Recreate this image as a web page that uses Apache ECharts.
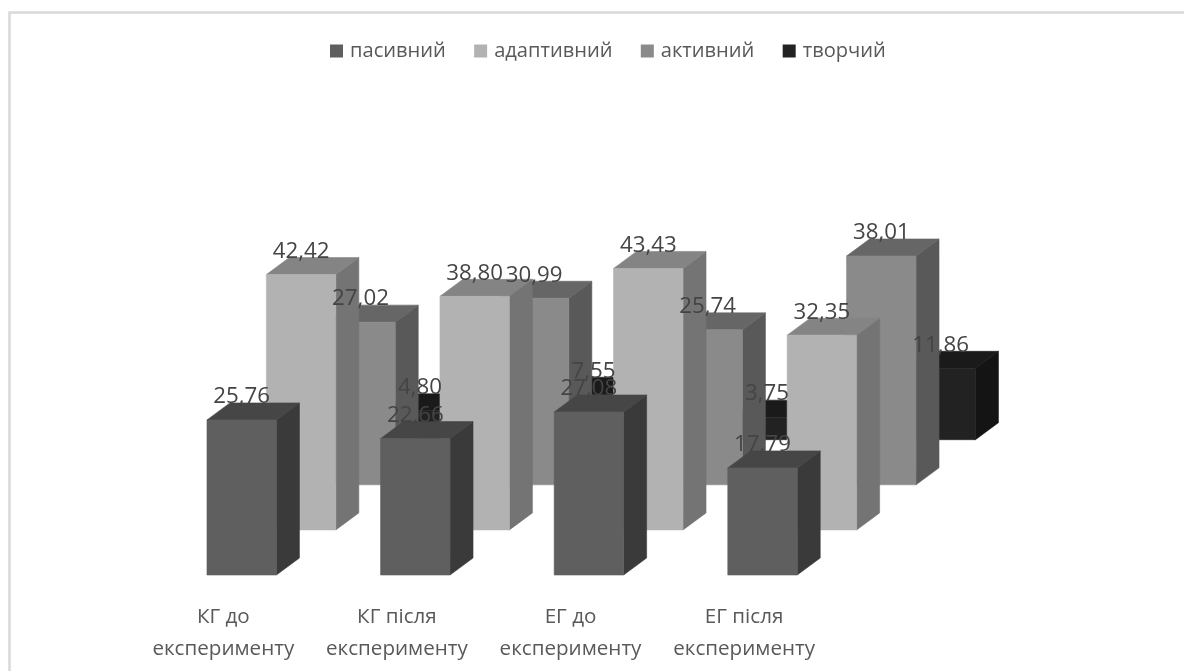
<!DOCTYPE html>
<html><head><meta charset="utf-8">
<style>html,body{margin:0;padding:0;background:#fff}#c{width:1184px;height:671px}</style>
<script src="https://cdn.jsdelivr.net/npm/echarts@6/dist/echarts.min.js"></script>
</head><body><div id="c"></div>
<script>
const categories = ['КГ до\nексперименту','КГ після\nексперименту','ЕГ до\nексперименту','ЕГ після\nексперименту'];
const passive = [25.76,22.66,27.08,17.79];
const adaptive = [42.42,38.80,43.43,32.35];
const active = [27.02,30.99,25.74,38.01];
const creative = [4.80,7.55,3.75,11.86];
const seriesNames = ['пасивний','адаптивний','активний','творчий'];
const seriesValues = [passive,adaptive,active,creative];
const faceColors = [
  {front:'#5f5f5f',top:'#464646',side:'#3a3a3a'},
  {front:'#b2b2b2',top:'#848484',side:'#747474'},
  {front:'#8a8a8a',top:'#666666',side:'#595959'},
  {front:'#222222',top:'#1a1a1a',side:'#141414'}
];
const FONT = '"Open Sans", sans-serif';
const DX = 59.4, DY = 45.1;      // shift per series row (depth)
const BX = 23, BY = 17;          // depth of one bar
const CENTER_OFF = 18.4;         // bar centre vs. category label centre

function barItem(depth){
  const c = faceColors[depth];
  return function(params, api){
    const idx = api.value(0);
    const top = api.coord([idx, api.value(1)]);
    const base = api.coord([idx, 0]);
    const w = api.size([1,0])[0]*0.4;
    const x0 = top[0]+CENTER_OFF+DX*depth-w/2, x1 = x0+w;
    const yT = top[1]-DY*depth, yB = base[1]-DY*depth;
    const poly = (pts, fill) => ({type:'polygon',shape:{points:pts},style:{fill,stroke:fill,lineWidth:0.6}});
    return {type:'group',children:[
      poly([[x1,yT],[x1+BX,yT-BY],[x1+BX,yB-BY],[x1,yB]], c.side),
      poly([[x0,yT],[x0+BX,yT-BY],[x1+BX,yT-BY],[x1,yT]], c.top),
      poly([[x0,yT],[x1,yT],[x1,yB],[x0,yB]], c.front)
    ]};
  };
}
function labelItem(depth){
  return function(params, api){
    const idx = api.value(0), v = api.value(1);
    const top = api.coord([idx, v]);
    return {type:'text',style:{
      text:v.toFixed(2).replace('.',','),
      x:top[0]+CENTER_OFF+DX*depth, y:top[1]-DY*depth-23,
      align:'center', verticalAlign:'middle',
      font:'22.3px '+FONT, fill:'#444444'
    }};
  };
}
const series = [];
seriesNames.forEach((name,d)=>{
  const data = seriesValues[d].map((v,i)=>[i,v]);
  series.push({type:'custom',name,renderItem:barItem(d),data,z:10-d,
    itemStyle:{color:faceColors[d].front},encode:{x:0,y:1},silent:true});
});
seriesNames.forEach((name,d)=>{
  const data = seriesValues[d].map((v,i)=>[i,v]);
  series.push({type:'custom',name:name+' (підписи)',renderItem:labelItem(d),data,z:20,encode:{x:0,y:1},silent:true});
});
const chart = echarts.init(document.getElementById('c'),null,{renderer:'canvas'});
chart.setOption({
  animation:false,
  backgroundColor:'#fff',
  graphic:[{type:'polyline',shape:{points:[[9.5,671],[9.5,12.5],[1184,12.5]]},
    style:{fill:'none',stroke:'#d9d9d9',lineWidth:2.5},silent:true,z:0}],
  legend:{data:seriesNames,top:36,left:325,icon:'rect',itemWidth:13,itemHeight:13,itemGap:28.3,
    textStyle:{fontFamily:FONT,fontSize:20.1,color:'#595959',padding:[0,0,0,2]},selectedMode:false},
  grid:{left:136.5,width:694.4,bottom:96,top:93.4},
  xAxis:{type:'category',data:categories,axisLine:{show:false},axisTick:{show:false},splitLine:{show:false},
    axisLabel:{interval:0,margin:26,fontFamily:FONT,fontSize:20.6,color:'#595959',lineHeight:32}},
  yAxis:{type:'value',min:0,max:80,show:false,splitLine:{show:false}},
  series
});
</script></body></html>
